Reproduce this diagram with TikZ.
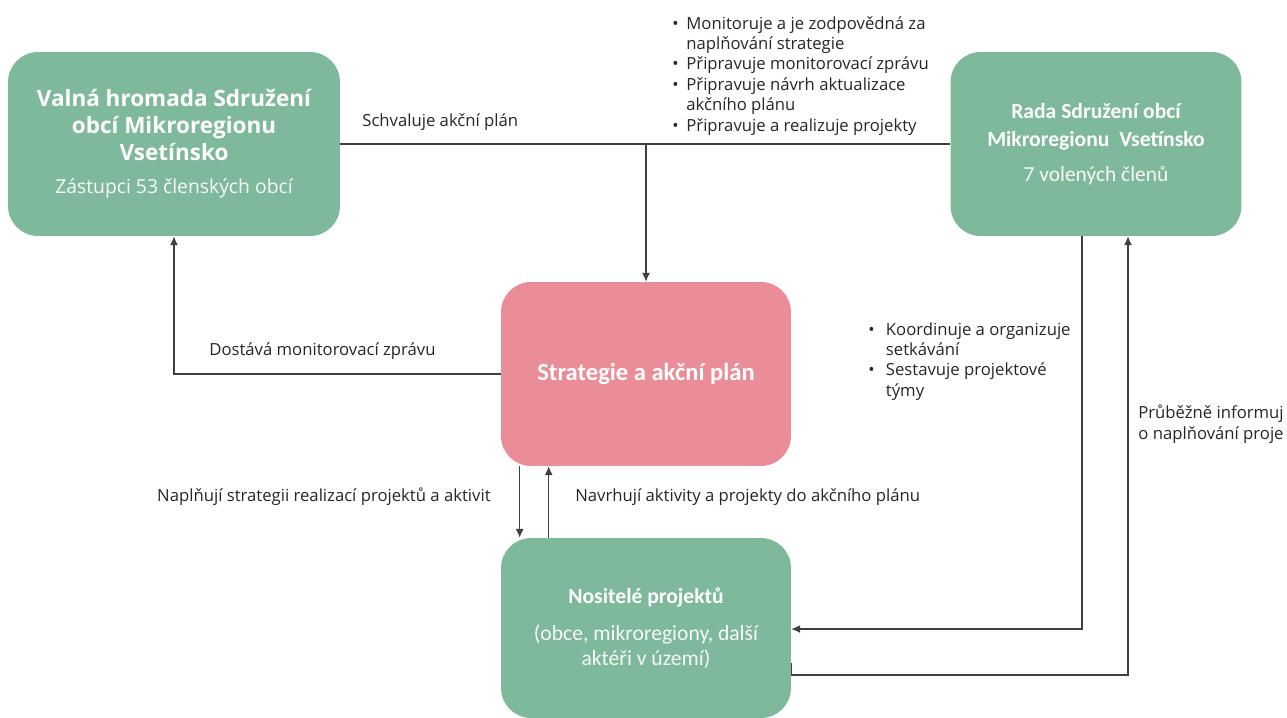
\documentclass[tikz,border=0pt]{standalone}
\usepackage{fontspec}
\setmainfont{Open Sans}
\newfontfamily\boxfont{Carlito}
\usepackage{tikz}
\usetikzlibrary{arrows.meta,positioning,calc}
\definecolor{zelena}{HTML}{7FB99B}
\definecolor{ruzova}{HTML}{EB8D98}
\definecolor{cara}{HTML}{404040}
\tikzstyle{blok}=[draw=none, rounded corners=0.6cm, inner sep=0pt, align=center, text=white]
\tikzstyle{spoj}=[-{Latex[length=5pt,width=4.5pt]}, draw=cara, line width=0.6pt]
\tikzstyle{popis}=[inner sep=0pt, text=black!85, font=\fontsize{9.5}{11.6}\selectfont]
\newcommand{\odr}{\makebox[8pt][l]{\textbullet}}
\newcommand{\odrr}{\makebox[10pt][l]{\textbullet}}

\begin{document}
\begin{tikzpicture}[x=0.02cm, y=-0.02cm]

\useasboundingbox (0,0) rectangle (1287,717);

% boxes
\node[blok, fill=zelena, minimum width=6.64cm, minimum height=3.68cm,
      font=\fontsize{12.8}{15.3}\selectfont\bfseries] (valna) at (174,144)
  {Valná hromada Sdružení\\ obcí Mikroregionu\\ Vsetínsko\\[3.4pt]
   {\mdseries\fontsize{11}{15.3}\selectfont\color{white!94!zelena}Zástupci 53 členských obcí}};
\node[blok, fill=zelena, minimum width=5.82cm, minimum height=3.68cm,
      font=\boxfont\fontsize{12.3}{15.9}\selectfont\bfseries] (rada) at (1096,144)
  {Rada Sdružení obcí\\ Mikroregionu\ \ Vsetínsko\\[3.9pt]
   {\mdseries\fontsize{12.2}{15.9}\selectfont\color{white!94!zelena}7 volených členů}};
\node[blok, fill=ruzova, minimum width=5.8cm, minimum height=3.68cm,
      font=\boxfont\fontsize{14}{17}\selectfont\bfseries] (strat) at (646,374)
  {Strategie a akční plán};
\node[blok, fill=zelena, minimum width=5.8cm, minimum height=3.6cm,
      font=\boxfont\fontsize{12.3}{14.2}\selectfont] (nos) at (646,628)
  {\textbf{Nositelé projektů}\\[6.8pt]
   {\color{white!94!zelena}(obce, mikroregiony, další}\\
   {\color{white!94!zelena}aktéři v území)}};

% top line
\coordinate (rozdel) at (strat.north |- valna.east);
\draw[draw=cara, line width=0.6pt] (valna.east) -- (rada.west);
\draw[spoj] (rozdel) -- (strat.north);
\node[popis, anchor=west] (schv) at (362,122) {Schvaluje akční plán};
\node[popis, anchor=north west, align=left] (ukoly) at (672,16)
  {\odr Monitoruje a je zodpovědná za\\
   \hspace*{8pt}naplňování strategie\\
   \odr Připravuje monitorovací zprávu\\
   \odr Připravuje návrh aktualizace\\
   \hspace*{8pt}akčního plánu\\
   \odr Připravuje a realizuje projekty};

% monitoring
\draw[spoj] (strat.west) -| (valna.south);
\node[popis, anchor=west] (dost) at (209,351) {Dostává monitorovací zprávu};

% projects
\draw[spoj] ($(strat.south west)+(19,0)$) -- ($(nos.north west)+(19,0)$);
\draw[spoj] ($(nos.north west)+(48,0)$) -- ($(strat.south west)+(48,0)$);
\node[popis, anchor=east] (napl) at (491,497) {Naplňují strategii realizací projektů a aktivit};
\node[popis, anchor=west] (navr) at (575,497) {Navrhují aktivity a projekty do akčního plánu};

% rada -- nositele
\draw[spoj] ($(rada.south)+(-14,0)$) |- ($(nos.east)+(0,1)$);
\draw[spoj] ($(nos.east)+(0,35)$) -- ++(0,12) -| ($(rada.south)+(32,0)$);
\node[popis, anchor=north west, align=left] (koord) at (868,322)
  {\odrr Koordinuje a organizuje\\
   \hspace*{10pt}setkávání\\
   \odrr Sestavuje projektové\\
   \hspace*{10pt}týmy};
\node[popis, anchor=north west, align=left] (info) at (1138,405)
  {Průběžně informuj\\ o naplňování proje};

\end{tikzpicture}
\end{document}
